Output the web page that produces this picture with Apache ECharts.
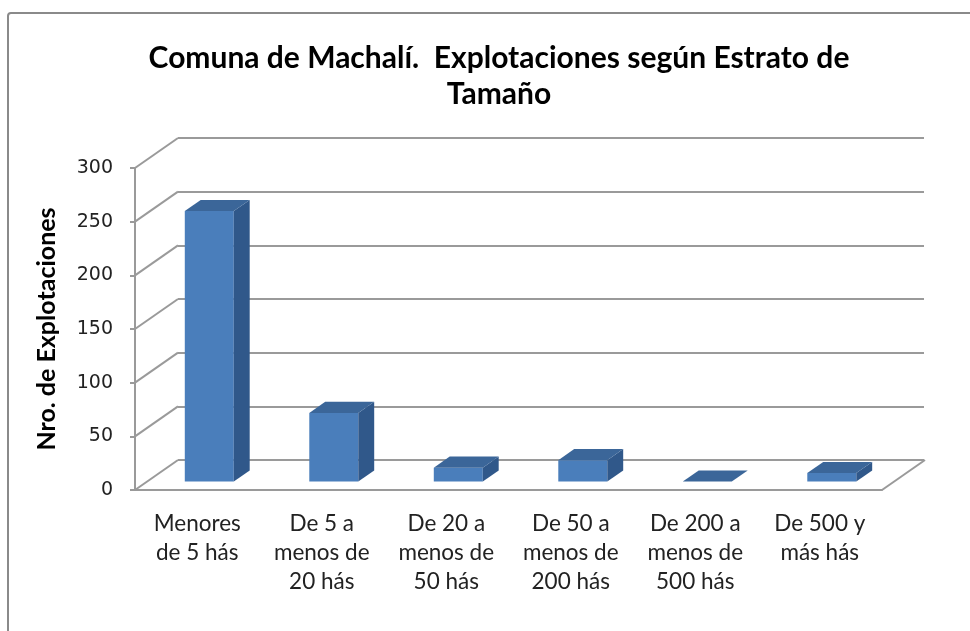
<!DOCTYPE html>
<html>
<head>
<meta charset="utf-8">
<script src="https://cdn.jsdelivr.net/npm/echarts@6/dist/echarts.min.js"></script>
<style>html,body{margin:0;padding:0;background:#fff}#c{width:970px;height:631px}</style>
</head>
<body>
<div id="c"></div>
<script>
const categories = ['Menores\nde 5 hás', 'De 5 a\nmenos de\n20 hás', 'De 20 a\nmenos de\n50 hás', 'De 50 a\nmenos de\n200 hás', 'De 200 a\nmenos de\n500 hás', 'De 500 y\nmás hás'];
const values = [252, 64, 13, 20, 0, 8];
const yTicks = [0, 50, 100, 150, 200, 250, 300];

const DX = 43, DY = -30;          // depth of the floor / wall
const T0 = 0.28, TD = 0.37;       // bar front position and bar depth (fraction of DX/DY)
const BAR_W = 49;
const GRID_COLOR = '#9a9a9a';
const FONT = 'Lato';

const chart = echarts.init(document.getElementById('c'));

function barItem(params, api) {
  const i = api.value(0), v = api.value(1);
  const c = api.coord([i, v]);
  const c0 = api.coord([i, 0]);
  const ox = T0 * DX, oy = T0 * DY;
  const bx = TD * DX, by = TD * DY;
  const L = c[0] - BAR_W / 2 + ox, R = c[0] + BAR_W / 2 + ox;
  const yt = c[1] + oy, yb = c0[1] + oy;
  const children = [];
  if (yb - yt > 0.5) {
    children.push({ type: 'rect', shape: { x: L, y: yt, width: R - L, height: yb - yt }, style: { fill: '#4A7EBB' } });
    children.push({ type: 'polygon', shape: { points: [[R, yt], [R + bx, yt + by], [R + bx, yb + by], [R, yb]] }, style: { fill: '#30588A' } });
  }
  children.push({ type: 'polygon', shape: { points: [[L, yt], [R, yt], [R + bx, yt + by], [L + bx, yt + by]] }, style: { fill: '#3B6699' } });
  return { type: 'group', children };
}

function sideWallItem(params, api) {
  const v = api.value(0);
  const cs = params.coordSys;
  const y = api.coord([0, v])[1];
  return { type: 'line', shape: { x1: cs.x, y1: y, x2: cs.x + DX, y2: y + DY }, style: { stroke: GRID_COLOR, lineWidth: 2 } };
}

function floorEdgeItem(params, api) {
  const cs = params.coordSys;
  const y = api.coord([0, 0])[1];
  const x = cs.x + cs.width;
  return { type: 'line', shape: { x1: x, y1: y, x2: x + DX, y2: y + DY }, style: { stroke: GRID_COLOR, lineWidth: 2 } };
}

chart.setOption({
  animation: false,
  backgroundColor: '#fff',
  graphic: [{
    type: 'rect', shape: { x: 8, y: 13, width: 1000, height: 700, r: 3 },
    style: { fill: 'none', stroke: '#8a8a8a', lineWidth: 2 }, silent: true, z: -10
  }],
  title: {
    text: 'Comuna de Machalí.  Explotaciones según Estrato de\nTamaño',
    left: 494, top: 35, textAlign: 'center',
    textStyle: { fontFamily: FONT, fontWeight: 'bold', fontSize: 30, lineHeight: 36, color: '#000' }
  },
  grid: [
    { left: 135, top: 168, width: 747, height: 322 },
    { left: 178, top: 138, width: 746, height: 322 }
  ],
  xAxis: [
    {
      type: 'category', gridIndex: 0, data: categories,
      axisLine: { show: true, lineStyle: { color: GRID_COLOR, width: 2 } },
      axisTick: { show: false },
      axisLabel: { fontFamily: FONT, fontSize: 22.5, lineHeight: 29, color: '#222', margin: 19, interval: 0 }
    },
    { type: 'category', gridIndex: 1, data: categories, show: false }
  ],
  yAxis: [
    {
      type: 'value', gridIndex: 0, min: 0, max: 300, interval: 50,
      name: 'Nro. de Explotaciones', nameLocation: 'middle', nameRotate: 90, nameGap: 76,
      nameTextStyle: { fontFamily: FONT, fontWeight: 'bold', fontSize: 25, color: '#000' },
      axisLine: { show: true, lineStyle: { color: GRID_COLOR, width: 2 } },
      axisTick: { show: true, inside: false, length: 5, lineStyle: { color: GRID_COLOR, width: 2 } },
      axisLabel: { fontFamily: 'DejaVu Sans', fontSize: 19, color: '#222', margin: 22 },
      splitLine: { show: false }
    },
    {
      type: 'value', gridIndex: 1, min: 0, max: 300, interval: 50,
      axisLine: { show: false }, axisTick: { show: false }, axisLabel: { show: false },
      splitLine: { show: true, lineStyle: { color: GRID_COLOR, width: 2 } }
    }
  ],
  series: [
    {
      type: 'custom', xAxisIndex: 0, yAxisIndex: 0, renderItem: sideWallItem,
      data: yTicks.map(v => [v]), encode: { y: 0 }, silent: true, z: 1
    },
    {
      type: 'custom', xAxisIndex: 0, yAxisIndex: 0, renderItem: floorEdgeItem,
      data: [[0]], silent: true, z: 1
    },
    {
      type: 'custom', xAxisIndex: 0, yAxisIndex: 0, renderItem: barItem,
      data: values.map((v, i) => [i, v]), encode: { x: 0, y: 1 }, z: 5
    }
  ]
});
</script>
</body>
</html>
